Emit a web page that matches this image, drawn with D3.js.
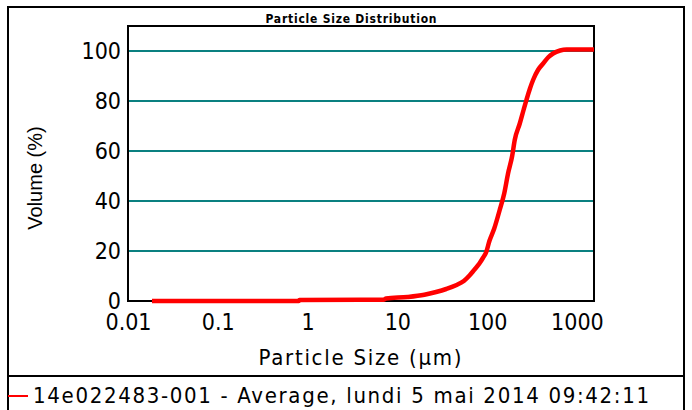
<!DOCTYPE html>
<html>
<head>
<meta charset="utf-8">
<script src="https://cdn.jsdelivr.net/npm/d3@7"></script>
<style>
  body { margin: 0; background: #fff; }
  svg { display: block; }
</style>
</head>
<body>
<svg id="chart" width="692" height="410"></svg>
<script>
// particle size (um) and cumulative volume (%)
var sizes = [0.0185, 0.8, 0.81, 7, 7.5, 13, 20, 27, 35, 45, 55, 64, 72, 82, 90, 98, 106, 120, 138, 155,
  171, 190, 203, 231, 255, 274, 300, 325, 370, 421, 480, 543, 650, 767, 1550];
var volumes = [0, 0, 0.4, 0.5, 1.0, 1.6, 2.5, 3.6, 4.8, 6.3, 8, 10.3, 12.5, 15, 17.3, 19.7, 24, 29, 36.4, 43,
  51, 58, 64.4, 71, 76.5, 80.4, 85, 88.4, 92.5, 95, 97.5, 99, 100.2, 100.6, 100.6];
var xTicks = [0.01, 0.1, 1, 10, 100, 1000];
var yTicks = [0, 20, 40, 60, 80, 100];
var title = "Particle Size Distribution";
var xLabel = "Particle Size (\u00b5m)";
var yLabel = "Volume (%)";
var seriesName = "14e022483-001 - Average, lundi 5 mai 2014 09:42:11";

var svg = d3.select("#chart");
var labelFont = "'DejaVu Sans Condensed', 'DejaVu Sans', sans-serif";

var plot = { left: 128, right: 594, top: 26, bottom: 301 };

var x = d3.scaleLog().domain([0.01, 1550]).range([plot.left, plot.right]);
var y = d3.scaleLinear().domain([0, 110]).range([plot.bottom, plot.top]);

// outer frame and legend separator
svg.append("rect")
  .attr("x", 8).attr("y", 7)
  .attr("width", 676).attr("height", 410)
  .attr("fill", "none").attr("stroke", "#000").attr("stroke-width", 2);

svg.append("line")
  .attr("x1", 8).attr("x2", 684)
  .attr("y1", 376).attr("y2", 376)
  .attr("stroke", "#000").attr("stroke-width", 2);

svg.append("text")
  .attr("x", 351).attr("y", 23)
  .attr("text-anchor", "middle")
  .attr("font-family", labelFont)
  .attr("font-weight", "bold")
  .attr("font-size", 12)
  .attr("textLength", 171)
  .attr("lengthAdjust", "spacing")
  .text(title);

// gridlines
svg.append("g")
  .selectAll("line")
  .data(yTicks.filter(function(d) { return d > 0; }))
  .enter().append("line")
  .attr("x1", plot.left).attr("x2", plot.right)
  .attr("y1", function(d) { return y(d); })
  .attr("y2", function(d) { return y(d); })
  .attr("stroke", "#0a8080").attr("stroke-width", 2);

// plot box
svg.append("rect")
  .attr("x", plot.left).attr("y", plot.top)
  .attr("width", plot.right - plot.left)
  .attr("height", plot.bottom - plot.top)
  .attr("fill", "none").attr("stroke", "#000").attr("stroke-width", 2);

var xAxis = svg.append("g")
  .attr("transform", "translate(0," + plot.bottom + ")")
  .call(d3.axisBottom(x).tickValues(xTicks).tickSize(0).tickPadding(13)
    .tickFormat(function(d) { return String(d); }));
xAxis.select(".domain").remove();
xAxis.selectAll("text")
  .attr("font-family", labelFont)
  .attr("font-size", 23)
  .attr("fill", "#000");

var yAxis = svg.append("g")
  .attr("transform", "translate(" + plot.left + ",0)")
  .call(d3.axisLeft(y).tickValues(yTicks).tickSize(0).tickPadding(7));
yAxis.select(".domain").remove();
yAxis.selectAll("text")
  .attr("font-family", labelFont)
  .attr("font-size", 23)
  .attr("fill", "#000");

svg.append("text")
  .attr("x", 360).attr("y", 365)
  .attr("text-anchor", "middle")
  .attr("font-family", labelFont)
  .attr("font-size", 22)
  .attr("textLength", 203)
  .attr("lengthAdjust", "spacing")
  .text(xLabel);

svg.append("text")
  .attr("transform", "translate(42,178) rotate(-90)")
  .attr("text-anchor", "middle")
  .attr("font-family", "'Liberation Sans', Arial, sans-serif")
  .attr("font-size", 20)
  .text(yLabel);

// curve
var pts = sizes.map(function(s, i) { return [s, volumes[i]]; });

svg.append("path")
  .datum(pts)
  .attr("d", d3.line()
    .x(function(d) { return x(d[0]); })
    .y(function(d) { return y(d[1]); })
    .curve(d3.curveMonotoneX))
  .attr("fill", "none")
  .attr("stroke", "#ff0000")
  .attr("stroke-width", 4.5)
  .attr("stroke-linejoin", "round");

// legend
svg.append("line")
  .attr("x1", 8).attr("x2", 28)
  .attr("y1", 396).attr("y2", 396)
  .attr("stroke", "#ff0000").attr("stroke-width", 2);

svg.append("text")
  .attr("x", 33).attr("y", 403)
  .attr("font-family", labelFont)
  .attr("font-size", 22)
  .attr("textLength", 616)
  .attr("lengthAdjust", "spacing")
  .text(seriesName);
</script>
</body>
</html>
